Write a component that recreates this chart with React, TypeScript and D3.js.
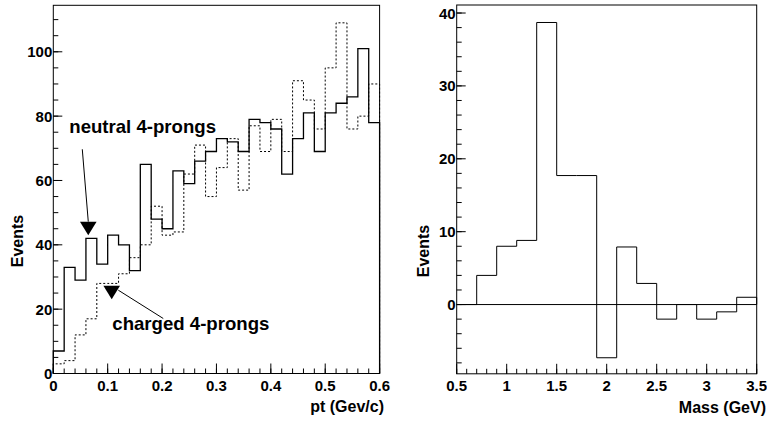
import React from "react";
import * as d3 from "d3";

// ---------- data ----------
const ptBinWidth = 0.02;
const ptBinLow = d3.range(30).map((i) => +(i * ptBinWidth).toFixed(2));
const neutral4 = [7, 33, 29, 42, 34, 43, 40, 32, 65, 48, 45, 63, 59, 66, 69, 73, 72, 69, 79, 78, 76, 62, 73, 81, 69, 81, 84, 86, 101, 78];
const charged4 = [3, 4, 12, 17, 28, 28, 31, 36, 40, 52, 43, 44, 62, 71, 55, 64, 73, 57, 77, 69, 79, 69, 91, 85, 76, 95, 109, 76, 80, 90];

const massBinWidth = 0.2;
const massBinLow = [0.5, 0.7, 0.9, 1.1, 1.3, 1.5, 1.7, 1.9, 2.1, 2.3, 2.5, 2.7, 2.9, 3.1, 3.3];
const massValues = [0, 4, 8, 8.8, 38.7, 17.7, 17.7, -7.3, 7.9, 2.9, -2, 0, -2, -1, 1];

const ptMajorTicks = [0, 0.1, 0.2, 0.3, 0.4, 0.5, 0.6];
const ptTickLabels = ["0", "0.1", "0.2", "0.3", "0.4", "0.5", "0.6"];
const eventsMajorTicks = [0, 20, 40, 60, 80, 100];
const massMajorTicks = [0.5, 1, 1.5, 2, 2.5, 3, 3.5];
const massTickLabels = ["0.5", "1", "1.5", "2", "2.5", "3", "3.5"];
const massEventsTicks = [0, 10, 20, 30, 40];

// annotations (data coordinates of left panel)
const neutralLabel = { text: "neutral 4-prongs", x: 0.0294, y: 74.7 };
const neutralArrow = { x1: 0.0533, y1: 69.7, x2: 0.0643, y2: 47.2, tipX: 0.0643, tipY: 43.0 };
const chargedLabel = { text: "charged 4-prongs", x: 0.1085, y: 13.5 };
const chargedArrow = { x1: 0.2022, y1: 17.1, x2: 0.1195, y2: 25.9, tipX: 0.1074, tipY: 23.1 };

const FONT = "'Liberation Sans', Arial, Helvetica, sans-serif";

function stepPath(lows: number[], vals: number[], w: number, x: any, y: any, base: number) {
  let d = `M${x(lows[0])},${y(base)}`;
  lows.forEach((lo, i) => {
    d += `L${x(lo)},${y(vals[i])}L${x(lo + w)},${y(vals[i])}`;
  });
  d += `L${x(lows[lows.length - 1] + w)},${y(base)}`;
  return d;
}

function minorRange(a: number, b: number, step: number) {
  const out: number[] = [];
  const n = Math.round((b - a) / step);
  for (let i = 0; i <= n; i++) out.push(+(a + i * step).toFixed(4));
  return out;
}

function Frame({ x, y }: any) {
  const [x0, x1] = x.range();
  const [y0, y1] = y.range();
  return <rect x={x0} y={y1} width={x1 - x0} height={y0 - y1} fill="none" stroke="#000" strokeWidth={1} />;
}

function XAxis({ x, y, major, labels, minor }: any) {
  const yb = y.range()[0];
  return (
    <g>
      {minor.map((t: number, i: number) => (
        <line key={"m" + i} x1={x(t)} x2={x(t)} y1={yb} y2={yb - 5} stroke="#000" />
      ))}
      {major.map((t: number, i: number) => (
        <line key={"M" + i} x1={x(t)} x2={x(t)} y1={yb} y2={yb - 10} stroke="#000" />
      ))}
      {major.map((t: number, i: number) => (
        <text key={"l" + i} x={x(t)} y={391} textAnchor="middle" fontSize={15} fontWeight="bold" fontFamily={FONT}>
          {labels[i]}
        </text>
      ))}
    </g>
  );
}

function YAxis({ x, y, major, minor }: any) {
  const xl = x.range()[0];
  return (
    <g>
      {minor.map((t: number, i: number) => (
        <line key={"m" + i} x1={xl} x2={xl + 5} y1={y(t)} y2={y(t)} stroke="#000" />
      ))}
      {major.map((t: number, i: number) => (
        <line key={"M" + i} x1={xl} x2={xl + 9} y1={y(t)} y2={y(t)} stroke="#000" />
      ))}
      {major.map((t: number, i: number) => (
        <text key={"l" + i} x={xl - 1} y={y(t) + 5.5} textAnchor="end" fontSize={15} fontWeight="bold" fontFamily={FONT}>
          {String(t)}
        </text>
      ))}
    </g>
  );
}

function Marker({ cx, tipY }: any) {
  const pts = [
    [cx - 8.3, tipY - 13.5],
    [cx + 8.3, tipY - 13.5],
    [cx, tipY],
  ];
  return <polygon points={pts.map((p) => p.join(",")).join(" ")} fill="#000" />;
}

export default function App() {
  const xL = d3.scaleLinear().domain([0, 0.6]).range([53.3, 379.6]);
  const yL = d3.scaleLinear().domain([0, 114.45]).range([373.5, 5.3]);
  const xR = d3.scaleLinear().domain([0.5, 3.5]).range([456.7, 756.7]);
  const yR = d3.scaleLinear().domain([-9.5, 41.1]).range([373.8, 5]);

  return (
    <svg width={767} height={421} style={{ position: "absolute", left: 0, top: 0, background: "#fff" }}>
      <rect x={0} y={0} width={767} height={421} fill="#fff" />
      {/* left panel */}
      <path d={stepPath(ptBinLow, charged4, ptBinWidth, xL, yL, 0)} fill="none" stroke="#000" strokeWidth={1} strokeDasharray="2,2" />
      <path d={stepPath(ptBinLow, neutral4, ptBinWidth, xL, yL, 0)} fill="none" stroke="#000" strokeWidth={1.3} />
      <Frame x={xL} y={yL} />
      <XAxis x={xL} y={yL} major={ptMajorTicks} labels={ptTickLabels} minor={minorRange(0, 0.6, 0.02)} />
      <YAxis x={xL} y={yL} major={eventsMajorTicks} minor={minorRange(0, 110, 5)} />
      <text x={384} y={412} textAnchor="end" fontSize={16} fontWeight="bold" fontFamily={FONT}>pt (Gev/c)</text>
      <text transform="translate(23,241) rotate(-90)" textAnchor="middle" fontSize={16} fontWeight="bold" fontFamily={FONT}>Events</text>

      <text x={xL(neutralLabel.x)} y={yL(neutralLabel.y)} fontSize={18.6} fontWeight="bold" fontFamily={FONT}>{neutralLabel.text}</text>
      <line x1={xL(neutralArrow.x1)} y1={yL(neutralArrow.y1)} x2={xL(neutralArrow.x2)} y2={yL(neutralArrow.y2)} stroke="#000" />
      <Marker cx={xL(neutralArrow.tipX)} tipY={yL(neutralArrow.tipY)} />
      <text x={xL(chargedLabel.x)} y={yL(chargedLabel.y)} fontSize={18.6} fontWeight="bold" fontFamily={FONT}>{chargedLabel.text}</text>
      <line x1={xL(chargedArrow.x1)} y1={yL(chargedArrow.y1)} x2={xL(chargedArrow.x2)} y2={yL(chargedArrow.y2)} stroke="#000" />
      <Marker cx={xL(chargedArrow.tipX)} tipY={yL(chargedArrow.tipY)} />

      {/* right panel */}
      <line x1={xR(0.5)} x2={xR(3.5)} y1={yR(0)} y2={yR(0)} stroke="#000" />
      <path d={stepPath(massBinLow, massValues, massBinWidth, xR, yR, 0)} fill="none" stroke="#000" strokeWidth={1} />
      <Frame x={xR} y={yR} />
      <XAxis x={xR} y={yR} major={massMajorTicks} labels={massTickLabels} minor={minorRange(0.5, 3.5, 0.1)} />
      <YAxis x={xR} y={yR} major={massEventsTicks} minor={minorRange(-8, 40, 2)} />
      <text x={766} y={413} textAnchor="end" fontSize={16} fontWeight="bold" fontFamily={FONT}>Mass (GeV)</text>
      <text transform="translate(429,251) rotate(-90)" textAnchor="middle" fontSize={16} fontWeight="bold" fontFamily={FONT}>Events</text>
    </svg>
  );
}
